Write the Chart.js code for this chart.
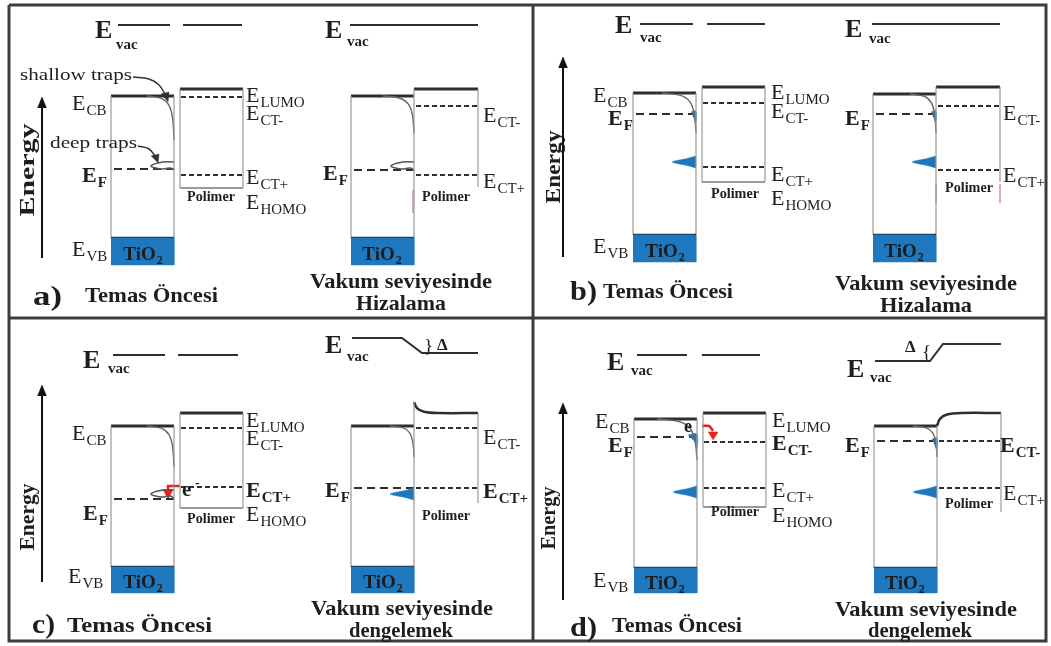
<!DOCTYPE html>
<html><head><meta charset="utf-8">
<script src="https://cdn.jsdelivr.net/npm/chart.js@4/dist/chart.umd.min.js"></script>
<style>html,body{margin:0;padding:0;background:#fff}canvas{display:block}</style>
</head><body>
<canvas id="c" width="1051" height="646"></canvas>
<script>
// ================= DATA (energy levels; y in image units, down = lower energy) =================
const panelLabels = ['a)', 'b)', 'c)', 'd)'];
const leftTitles  = ['Temas Öncesi', 'Temas Öncesi', 'Temas Öncesi', 'Temas Öncesi'];
const rightTitles1 = ['Vakum seviyesinde', 'Vakum seviyesinde', 'Vakum seviyesinde', 'Vakum seviyesinde'];
const rightTitles2 = ['Hizalama', 'Hizalama', 'dengelemek', 'dengelemek'];

// before contact (left diagram of each panel)
const evacBefore    = [25, 24, 355, 355];
const cbBefore      = [96, 93, 426, 419];
const efBefore      = [169, 114, 499, 437];
const vbBefore      = [238, 235, 567, 568];
const lumoBefore    = [89, 87, 413, 413];
const ctMinusBefore = [97, 103, 428, 442];
const ctPlusBefore  = [175, 167, 487, 488];
const trapBefore    = [166, 162, 494, 492];

// aligned / equilibrated (right diagram of each panel)
const evacTiO2After = [25, 24, 338, 361];
const evacPolyAfter = [25, 24, 353, 344];
const cbAfter       = [96, 94, 426, 426];
const efAfter       = [170, 114, 488, 441];
const vbAfter       = [238, 235, 567, 568];
const lumoAfter     = [89, 87, 413, 413];
const ctMinusAfter  = [106, 106, 428, 441];
const ctPlusAfter   = [175, 170, 488, 488];
const trapAfter     = [166, 162, 494, 492];
const polyBendAfter = [0, 0, -11, 13];

// trap occupation
const deepFilledBefore    = [false, true, false, true];
const deepFilledAfter     = [false, true, true, true];
const shallowFilledBefore = [false, true, false, true];
const shallowFilledAfter  = [false, true, false, true];

// ================= LAYOUT / STYLE =================
const colX = [0, 522, 0, 523];
const blockBottom = [265, 262, 593, 593];
const polyBottomBefore = [188, 182, 508, 507];
const polyBottomAfter  = [187, 182, 503, 512];
const energyArrow = [[42, 97, 258], [563, 57, 257], [42, 385, 582], [563, 403, 600]];
const evacBeforeX = [[118, 170, 183, 242], [118, 171, 185, 243], [113, 165, 178, 238], [114, 164, 179, 237]];
const evacStepX = [null, null, [402, 422], [407, 420]];
const curveBefore = [[27, 44], [34, 40], [27, 41], [40, 41]];
const curveAfter  = [[31, 37], [26, 39], [24, 31], [24, 31]];
const curveShape = [[0, 0], [0.55, 0.06], [0.82, 0.22], [0.95, 0.52], [1, 1]];
const TIO2 = [111, 174], POLY = [180, 243], TIO2R = [351, 414], POLYR = [414, 478];
const BLUE = '#1f78bd', DARK = '#2e2e2e', GRAY = '#9a9a9a', NAVY = '#163a5c', RED = '#e8221b';

const datasets = [];
function line(pts, o = {}) {
  datasets.push({
    data: pts.map(p => ({x: p[0], y: p[1]})),
    borderColor: o.color || DARK,
    borderWidth: o.width ?? 1.5,
    borderDash: o.dash || [],
    tension: o.tension || 0,
    fill: o.fill ? 'shape' : false,
    backgroundColor: o.fill || 'rgba(0,0,0,0)',
    pointRadius: 0,
    borderCapStyle: o.cap || 'butt',
    borderJoinStyle: 'miter'
  });
}
function poly(pts, color, tension = 0) { line(pts, {fill: color, width: 0.5, color: color, tension}); }

function bendCurve(x1, cb, s, d) {
  return curveShape.map(([a, b]) => [x1 - s + a * s, cb + b * d]);
}
function trapShape(x1, y, filled) {
  if (filled) poly([[x1, y - 6], [x1 - 9, y - 3.5], [x1 - 24, y], [x1 - 9, y + 3.5], [x1, y + 6]], BLUE, 0.25);
  else line([[x1, y - 4], [x1 - 11, y - 4], [x1 - 23, y], [x1 - 13, y + 3], [x1 - 4, y + 2], [x1, y + 4]], {color: '#555', width: 1.5, tension: 0.35});
}
function sliver(x1, ef, big) {
  const w = big ? 9 : 5;
  poly([[x1 - w, ef - 2], [x1, ef - 3], [x1, ef + (big ? 12 : 9)], [x1 - 2, ef + 5]], BLUE, 0.3);
}

// frame
line([[9, 5], [1046, 5], [1046, 641], [9, 641], [9, 5]], {color: '#3c3c3c', width: 3});
line([[533, 5], [533, 641]], {color: '#3c3c3c', width: 3});
line([[9, 318], [1046, 318]], {color: '#3c3c3c', width: 3});

for (let i = 0; i < 4; i++) {
  const ox = colX[i];
  // ---------- left diagram: before contact ----------
  const t0 = ox + TIO2[0], t1 = ox + TIO2[1], p0 = ox + POLY[0], p1 = ox + POLY[1];
  poly([[t0, vbBefore[i]], [t1, vbBefore[i]], [t1, blockBottom[i]], [t0, blockBottom[i]]], BLUE);
  line([[t0, vbBefore[i]], [t1, vbBefore[i]]], {color: NAVY, width: 2.5});
  line([[t0, cbBefore[i]], [t0, vbBefore[i]]], {color: GRAY, width: 1.2});
  line([[t1, cbBefore[i]], [t1, vbBefore[i]]], {color: GRAY, width: 1.2});
  line(bendCurve(t1, cbBefore[i], curveBefore[i][0], curveBefore[i][1]), {color: '#666', width: 1.4, tension: 0.4});
  if (shallowFilledBefore[i]) sliver(t1, efBefore[i], i === 3);
  trapShape(t1, trapBefore[i], deepFilledBefore[i]);
  line([[t0, cbBefore[i]], [t1, cbBefore[i]]], {color: DARK, width: 3});
  line([[t0 + 3, efBefore[i]], [t1, efBefore[i]]], {color: DARK, width: 2, dash: [8, 5]});
  // polymer
  line([[p0, lumoBefore[i]], [p0, polyBottomBefore[i]]], {color: GRAY, width: 1.2});
  line([[p1, lumoBefore[i]], [p1, polyBottomBefore[i]]], {color: GRAY, width: 1.2});
  line([[p0, polyBottomBefore[i]], [p1, polyBottomBefore[i]]], {color: '#777', width: 1.4});
  line([[p0, lumoBefore[i]], [p1, lumoBefore[i]]], {color: DARK, width: 3});
  line([[p0 + 1, ctMinusBefore[i]], [p1, ctMinusBefore[i]]], {color: DARK, width: 2, dash: [5, 3]});
  line([[p0 + 1, ctPlusBefore[i]], [p1, ctPlusBefore[i]]], {color: DARK, width: 2, dash: [5, 3]});
  // vacuum level
  const ex = evacBeforeX[i];
  line([[ox + ex[0], evacBefore[i]], [ox + ex[1], evacBefore[i]]], {color: DARK, width: 2});
  line([[ox + ex[2], evacBefore[i]], [ox + ex[3], evacBefore[i]]], {color: DARK, width: 2});
  // energy arrow
  const ea = energyArrow[i];
  line([[ea[0], ea[2]], [ea[0], ea[1] + 8]], {color: '#111', width: 2});
  poly([[ea[0] - 4.5, ea[1] + 11], [ea[0], ea[1]], [ea[0] + 4.5, ea[1] + 11]], '#111');

  // ---------- right diagram: aligned / equilibrium ----------
  const r0 = ox + TIO2R[0], r1 = ox + TIO2R[1], q1 = ox + POLYR[1];
  const bend = polyBendAfter[i], lu = lumoAfter[i];
  poly([[r0, vbAfter[i]], [r1, vbAfter[i]], [r1, blockBottom[i]], [r0, blockBottom[i]]], BLUE);
  line([[r0, vbAfter[i]], [r1, vbAfter[i]]], {color: NAVY, width: 2.5});
  line([[r0, cbAfter[i]], [r0, vbAfter[i]]], {color: GRAY, width: 1.2});
  line([[r1, Math.min(cbAfter[i], lu + bend)], [r1, vbAfter[i]]], {color: GRAY, width: 1.2});
  line([[q1, lu], [q1, polyBottomAfter[i]]], {color: GRAY, width: 1.2});
  line(bendCurve(r1, cbAfter[i], curveAfter[i][0], curveAfter[i][1]), {color: '#666', width: 1.4, tension: 0.4});
  if (shallowFilledAfter[i]) sliver(r1, efAfter[i], false);
  trapShape(r1, trapAfter[i], deepFilledAfter[i]);
  line([[r0, cbAfter[i]], [r1, cbAfter[i]]], {color: DARK, width: 3});
  if (bend === 0) line([[r1, lu], [q1, lu]], {color: DARK, width: 3});
  else line([[r1, lu + bend], [r1 + 3, lu + bend * 0.45], [r1 + 10, lu + bend * 0.12], [r1 + 24, lu], [q1, lu]], {color: DARK, width: 2.5, tension: 0.35});
  line([[r0 + 3, efAfter[i]], [r1, efAfter[i]]], {color: DARK, width: 2, dash: [8, 5]});
  line([[r1 + 2, ctMinusAfter[i]], [q1, ctMinusAfter[i]]], {color: DARK, width: 2, dash: [5, 3]});
  line([[r1 + 2, ctPlusAfter[i]], [q1, ctPlusAfter[i]]], {color: DARK, width: 2, dash: [5, 3]});
  const st = evacStepX[i];
  if (!st) line([[r0 - 1, evacTiO2After[i]], [q1, evacTiO2After[i]]], {color: DARK, width: 2});
  else line([[r0 + 1, evacTiO2After[i]], [ox + st[0], evacTiO2After[i]], [ox + st[1], evacPolyAfter[i]], [q1, evacPolyAfter[i]]], {color: DARK, width: 2});
}
// faint reddish edge artefacts
line([[413, 190], [413, 213]], {color: '#d9a0a0', width: 1});
line([[936, 184], [936, 203]], {color: '#d9a0a0', width: 1});
line([[1000, 184], [1000, 203]], {color: '#d9a0a0', width: 1});
// annotation arrows (panel a)
line([[133, 77], [149, 79], [159, 85], [165, 94]], {color: '#333', width: 1.5, tension: 0.4});
poly([[161, 94], [169, 92], [168, 102]], '#333');
line([[138, 146], [149, 149], [155, 156]], {color: '#333', width: 1.5, tension: 0.4});
poly([[151, 156], [159, 154], [158, 163]], '#333');
// red electron-transfer arrows (c, d)
line([[180, 486], [168, 486], [168, 491]], {color: RED, width: 2.5});
poly([[163, 490], [173, 490], [168, 499]], RED);
line([[702, 426], [709, 426], [713, 431]], {color: RED, width: 2.5, tension: 0.3});
poly([[708, 432], [718, 432], [713, 440]], RED);

// ================= TEXT =================
const texts = [];
function T(t, x, y, o = {}) { texts.push(Object.assign({t, x, y}, o)); }
function Elab(sub, x, y, bold) { T('E', x, y, {s: sub, f: 22, b: !!bold, sf: 15, sd: 5}); }

// E_vac
[[95, 38, 116, 49], [325, 38, 347, 46], [615, 33, 640, 42], [845, 37, 869, 43],
 [83, 368, 108, 373], [325, 353, 347, 361], [607, 370, 631, 375], [847, 377, 870, 382]].forEach(v => {
  T('E', v[0], v[1], {f: 26, b: true}); T('vac', v[2], v[3], {f: 15, b: true});
});
// left-diagram labels
[[72, 110], [593, 102], [72, 440], [595, 428]].forEach(p => Elab('CB', p[0], p[1]));
[[72, 256], [593, 253], [68, 583], [593, 587]].forEach(p => Elab('VB', p[0], p[1]));
[[82, 182], [608, 125], [83, 520], [608, 452], [323, 180], [845, 125], [325, 497], [845, 452]].forEach(p => Elab('F', p[0], p[1], true));
// polymer labels, before contact
Elab('LUMO', 246, 102); Elab('CT-', 246, 120); Elab('CT+', 246, 184); Elab('HOMO', 246, 209);
Elab('LUMO', 771, 99);  Elab('CT-', 771, 118); Elab('CT+', 771, 181); Elab('HOMO', 771, 205);
Elab('LUMO', 246, 427); Elab('CT-', 246, 445); Elab('CT+', 246, 497, true); Elab('HOMO', 246, 521);
Elab('LUMO', 772, 427); Elab('CT-', 772, 450, true); Elab('CT+', 772, 497); Elab('HOMO', 772, 522);
// polymer labels, after
Elab('CT-', 483, 122); Elab('CT+', 483, 188);
Elab('CT-', 1003, 120); Elab('CT+', 1003, 182);
Elab('CT-', 483, 444); Elab('CT+', 483, 498, true);
Elab('CT-', 1000, 452, true); Elab('CT+', 1003, 500);
// Polimer / TiO2
[[211, 201], [446, 201], [735, 198], [969, 192], [211, 523], [446, 520], [735, 516], [969, 508]].forEach(p => T('Polimer', p[0], p[1], {f: 14, b: true, a: 'center', w: 48}));
[[143, 260], [382, 260], [665, 257], [904, 257], [143, 588], [383, 588], [665, 589], [905, 589]].forEach(p => T('TiO', p[0], p[1], {f: 19, b: true, a: 'center', s: '2', sf: 12, sd: 4, c: '#1b1b1b'}));
// annotations
T('shallow traps', 20, 80, {f: 17, w: 112});
T('deep traps', 50, 148, {f: 17, w: 87});
T('e', 182, 496, {f: 21, b: true}); T('-', 195, 487, {f: 14, b: true});
T('e', 684, 432, {f: 18, b: true});
T('}', 424, 352, {f: 19}); T('Δ', 437, 350, {f: 17, b: true});
T('{', 922, 358, {f: 19}); T('Δ', 905, 352, {f: 17, b: true});
// Energy axes
[[34, 170, 93], [560, 167, 73], [34, 517, 67], [555, 518, 63]].forEach(p => T('Energy', p[0], p[1], {f: 22, b: true, a: 'center', rot: -Math.PI / 2, w: p[2]}));
// titles
[[33, 305, 29], [570, 300, 27], [32, 633, 23], [570, 636, 27]].forEach((p, i) => T(panelLabels[i], p[0], p[1], {f: 28, b: true, w: p[2]}));
[[85, 302, 133], [603, 298, 130], [67, 632, 145], [612, 632, 130]].forEach((p, i) => T(leftTitles[i], p[0], p[1], {f: 22, b: true, w: p[2]}));
[[401, 288], [926, 290], [402, 615], [926, 616]].forEach((p, i) => T(rightTitles1[i], p[0], p[1], {f: 22, b: true, a: 'center', w: 182}));
[[401, 310, 90], [926, 312, 92], [401, 637, 104], [920, 637, 104]].forEach((p, i) => T(rightTitles2[i], p[0], p[1], {f: 22, b: true, a: 'center', w: p[2]}));

const FONT = '"Liberation Serif", "Times New Roman", serif';
const textPlugin = {
  id: 'diagramText',
  beforeDraw(chart) { const c = chart.ctx; c.save(); c.fillStyle = '#fff'; c.fillRect(0, 0, chart.width, chart.height); c.restore(); },
  afterDatasetsDraw(chart) {
    const ctx = chart.ctx, sx = chart.scales.x, sy = chart.scales.y;
    for (const it of texts) {
      const px = sx.getPixelForValue(it.x), py = sy.getPixelForValue(it.y);
      ctx.save();
      ctx.fillStyle = it.c || '#1e1e1e';
      ctx.textBaseline = 'alphabetic';
      ctx.textAlign = 'left';
      const mainFont = (it.b ? 'bold ' : '') + it.f + 'px ' + FONT;
      const subFont = (it.b ? 'bold ' : '') + (it.sf || 12) + 'px ' + FONT;
      ctx.font = mainFont;
      const w = ctx.measureText(it.t).width;
      let sw = 0;
      if (it.s) { ctx.font = subFont; sw = ctx.measureText(it.s).width + 1; ctx.font = mainFont; }
      const total = w + sw;
      const k = it.w ? it.w / total : 1;
      ctx.translate(px, py);
      if (it.rot) ctx.rotate(it.rot);
      if (it.a === 'center') ctx.translate(-total * k / 2, 0);
      ctx.scale(k, 1);
      ctx.fillText(it.t, 0, 0);
      if (it.s) { ctx.font = subFont; ctx.fillText(it.s, w + 1, it.sd || 5); }
      ctx.restore();
    }
  }
};

new Chart(document.getElementById('c'), {
  type: 'line',
  data: {datasets},
  options: {
    responsive: false,
    animation: false,
    events: [],
    layout: {padding: 0},
    plugins: {legend: {display: false}, tooltip: {enabled: false}},
    elements: {point: {radius: 0}},
    scales: {
      x: {type: 'linear', min: 0, max: 1051, display: false},
      y: {type: 'linear', min: 0, max: 646, reverse: true, display: false}
    }
  },
  plugins: [textPlugin]
});
</script>
</body></html>
